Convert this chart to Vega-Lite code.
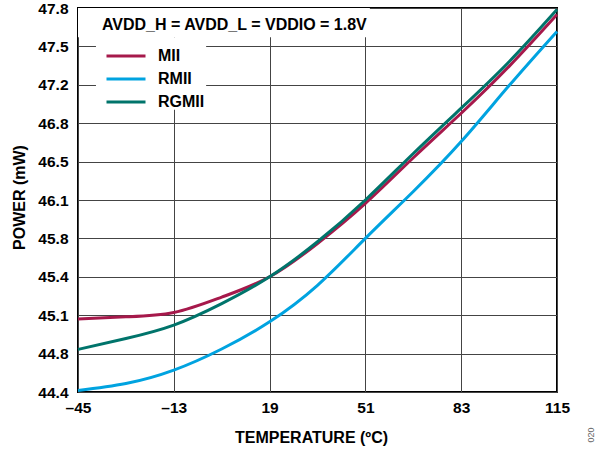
{
  "$schema": "https://vega.github.io/schema/vega-lite/v6.json",
  "width": 479,
  "height": 384,
  "autosize": {"type": "none"},
  "padding": {"left": 78, "top": 8, "right": 40, "bottom": 58},
  "background": "white",
  "config": {
    "view": {"stroke": "black", "strokeWidth": 2},
    "font": "Liberation Sans",
    "axis": {
      "labelFont": "Liberation Sans", "labelFontSize": 15.5, "labelFontWeight": "bold", "labelColor": "black",
      "titleFont": "Liberation Sans", "titleFontSize": 16, "titleFontWeight": "bold", "titleColor": "black",
      "ticks": false, "domain": false, "gridColor": "#444", "gridWidth": 1, "gridOpacity": 1,
      "labelOverlap": false, "labelFlush": false
    }
  },
  "datasets": {
    "series": [
      {"t": -45, "p": 45.046, "s": "MII"},
      {"t": -29, "p": 45.066, "s": "MII"},
      {"t": -13, "p": 45.104, "s": "MII"},
      {"t": 3, "p": 45.24, "s": "MII"},
      {"t": 19, "p": 45.42, "s": "MII"},
      {"t": 35, "p": 45.715, "s": "MII"},
      {"t": 51, "p": 46.07, "s": "MII"},
      {"t": 67, "p": 46.474, "s": "MII"},
      {"t": 83, "p": 46.868, "s": "MII"},
      {"t": 99, "p": 47.283, "s": "MII"},
      {"t": 115, "p": 47.742, "s": "MII"},
      {"t": -45, "p": 44.414, "s": "RMII"},
      {"t": -29, "p": 44.475, "s": "RMII"},
      {"t": -13, "p": 44.594, "s": "RMII"},
      {"t": 3, "p": 44.781, "s": "RMII"},
      {"t": 19, "p": 45.022, "s": "RMII"},
      {"t": 35, "p": 45.345, "s": "RMII"},
      {"t": 51, "p": 45.76, "s": "RMII"},
      {"t": 67, "p": 46.175, "s": "RMII"},
      {"t": 83, "p": 46.617, "s": "RMII"},
      {"t": 99, "p": 47.113, "s": "RMII"},
      {"t": 115, "p": 47.593, "s": "RMII"},
      {"t": -45, "p": 44.777, "s": "RGMII"},
      {"t": -29, "p": 44.873, "s": "RGMII"},
      {"t": -13, "p": 44.992, "s": "RGMII"},
      {"t": 3, "p": 45.182, "s": "RGMII"},
      {"t": 19, "p": 45.42, "s": "RGMII"},
      {"t": 35, "p": 45.73, "s": "RGMII"},
      {"t": 51, "p": 46.10, "s": "RGMII"},
      {"t": 67, "p": 46.512, "s": "RGMII"},
      {"t": 83, "p": 46.913, "s": "RGMII"},
      {"t": 99, "p": 47.324, "s": "RGMII"},
      {"t": 115, "p": 47.786, "s": "RGMII"}
    ]
  },
  "layer": [
    {
      "data": {"values": [
        {"x1": -45, "x2": 52.5, "y1": 47.54, "y2": 47.8},
        {"x1": -39, "x2": -2.2, "y1": 46.90, "y2": 47.54}
      ]},
      "mark": {"type": "rect", "fill": "white", "stroke": null},
      "encoding": {
        "x": {"field": "x1", "type": "quantitative"},
        "x2": {"field": "x2"},
        "y": {"field": "y1", "type": "quantitative"},
        "y2": {"field": "y2"}
      }
    },
    {
      "data": {"name": "series"},
      "mark": {"type": "line", "strokeWidth": 3, "interpolate": "natural"},
      "encoding": {
        "x": {
          "field": "t", "type": "quantitative",
          "scale": {"domain": [-45, 115], "nice": false, "zero": false},
          "axis": {
            "title": "TEMPERATURE (ºC)",
            "values": [-45, -13, 19, 51, 83, 115],
            "tickCount": 6,
            "labelExpr": "datum.value < 0 ? '–' + abs(datum.value) : '' + datum.value",
            "labelPadding": 8, "titlePadding": 14, "labelOverlap": false, "titleX": 233
          }
        },
        "y": {
          "field": "p", "type": "quantitative",
          "scale": {"domain": [44.4, 47.8], "nice": false, "zero": false},
          "axis": {
            "title": "POWER (mW)",
            "values": [44.4, 44.74, 45.08, 45.42, 45.76, 46.1, 46.44, 46.78, 47.12, 47.46, 47.8],
            "tickCount": 11,
            "labelExpr": "datum.value < 44.5 ? '44.4' : datum.value < 44.9 ? '44.8' : datum.value < 45.2 ? '45.1' : datum.value < 45.6 ? '45.4' : datum.value < 45.9 ? '45.8' : datum.value < 46.3 ? '46.1' : datum.value < 46.6 ? '46.5' : datum.value < 47.0 ? '46.8' : datum.value < 47.3 ? '47.2' : datum.value < 47.6 ? '47.5' : '47.8'",
            "labelPadding": 10, "titlePadding": 10, "labelOverlap": false, "titleY": 189
          }
        },
        "color": {
          "field": "s", "type": "nominal",
          "scale": {"domain": ["MII", "RMII", "RGMII"], "range": ["#A6194B", "#00A3E0", "#00746B"]},
          "legend": {
            "title": null, "orient": "none", "legendX": 40, "legendY": 40, "padding": 0,
            "symbolType": "M-3,0H3", "symbolStrokeWidth": 3, "symbolSize": 169,
            "labelFont": "Liberation Sans", "labelFontSize": 16, "labelFontWeight": "bold", "labelColor": "black",
            "labelOffset": 24, "rowPadding": 7
          }
        }
      }
    },
    {
      "data": {"values": [{"x": -37, "y": 47.65, "label": "AVDD_H = AVDD_L = VDDIO = 1.8V"}]},
      "mark": {"type": "text", "align": "left", "baseline": "middle", "fontSize": 16, "fontWeight": "bold", "font": "Liberation Sans", "color": "black"},
      "encoding": {
        "x": {"field": "x", "type": "quantitative"},
        "y": {"field": "y", "type": "quantitative"},
        "text": {"field": "label"}
      }
    },
    {
      "data": {"values": [{"x": 126.4, "y": 44.02, "label": "020"}]},
      "mark": {"type": "text", "align": "center", "baseline": "middle", "angle": 270, "fontSize": 9, "font": "Liberation Sans", "color": "#666", "clip": false},
      "encoding": {
        "x": {"field": "x", "type": "quantitative"},
        "y": {"field": "y", "type": "quantitative"},
        "text": {"field": "label"}
      }
    }
  ]
}
